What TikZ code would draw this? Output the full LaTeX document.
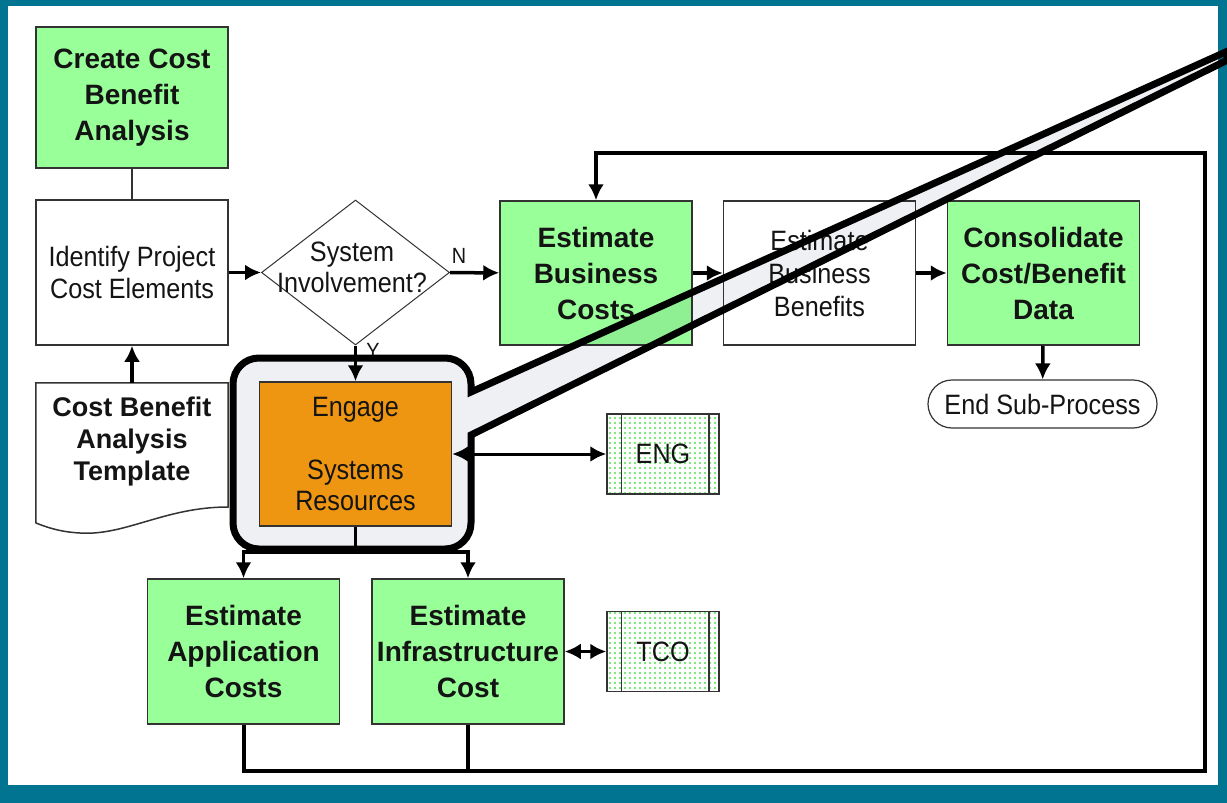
\documentclass[tikz,border=0pt]{standalone}
\usepackage{fontspec}
\setmainfont{Liberation Sans}
\newfontfamily\narrowfont[FakeStretch=0.9]{Liberation Sans}
\usepackage{xcolor}
\usetikzlibrary{shapes.geometric}
\usetikzlibrary{patterns}
\usetikzlibrary{arrows.meta}
\tikzset{>={Latex[length=16pt,width=16pt]}}

\definecolor{frameteal}{RGB}{0,116,145}
\definecolor{stepgreen}{RGB}{153,255,153}
\definecolor{dotgreen}{RGB}{80,225,80}
\definecolor{engageorange}{RGB}{238,150,18}
\definecolor{calloutgrey}{RGB}{238,240,244}
\definecolor{boxline}{RGB}{51,51,51}
\definecolor{labeltext}{RGB}{20,20,20}

% sparse dot fill for the sub-process boxes
\pgfdeclarepatternformonly{greendots}{\pgfqpoint{-1.2pt}{-1.2pt}}{\pgfqpoint{1.2pt}{1.2pt}}{\pgfqpoint{5pt}{5pt}}{%
    \pgfpathcircle{\pgfqpoint{0pt}{0pt}}{1.1pt}\pgfusepath{fill}}

\newcommand\boldlabel{\bfseries\fontsize{28}{36}\selectfont}
\newcommand\plainlabel{\narrowfont\fontsize{28}{31.5}\selectfont}

\tikzstyle{greenbox} = [rectangle, minimum width=192pt, minimum height=144pt, inner sep=0pt, draw=boxline, line width=1.5pt, fill=stepgreen, text=labeltext, align=center, font=\boldlabel]
\tikzstyle{whitebox} = [rectangle, minimum width=192pt, minimum height=144pt, inner sep=0pt, draw=boxline, line width=1.5pt, fill=white, text=labeltext, align=center, font=\plainlabel]
\tikzstyle{decision} = [diamond, minimum width=188pt, minimum height=145pt, inner sep=0pt, draw=boxline, line width=1pt, fill=white]
\tikzstyle{terminal} = [rectangle, rounded corners=24pt, minimum width=229pt, minimum height=48pt, draw=boxline, line width=1.2pt, text=labeltext, font=\plainlabel]
\tikzstyle{subproc} = [rectangle, minimum width=112pt, minimum height=80pt, draw=boxline, line width=1.5pt, pattern=greendots, pattern color=dotgreen, text=labeltext, font=\plainlabel]
\tikzstyle{callout} = [fill=calloutgrey, draw=black, line width=7pt, line join=miter]
\tikzstyle{arrow} = [line width=3.5pt,->]
\tikzstyle{link} = [line width=3.5pt]

\begin{document}
\begin{tikzpicture}[x=1pt, y=-1pt]
    \useasboundingbox (0,0) rectangle (1227,803);
    \fill[frameteal] (0,0) rectangle (1227,803);
    \fill[white] (8,6) rectangle (1218,785);

    % main flow
    \node[greenbox, minimum height=141pt] (create) at (132,97.5) {Create Cost\\Benefit\\Analysis};
    \node[whitebox, minimum height=145pt] (ident) at (132,272.5) {Identify Project\\Cost Elements};
    \node[decision] (sysq) at (355.5,272.5) {};
    \node[font=\plainlabel, text=labeltext, align=center] (sysqtext) at (352,267.5) {System\\Involvement?};
    \node[greenbox] (bizcost) at (596,273) {Estimate\\Business\\Costs};
    \node[whitebox, font=\narrowfont\fontsize{28}{33}\selectfont] (bizben) at (819.5,273) {Estimate\\Business\\Benefits};
    \node[greenbox] (consol) at (1043.5,273) {Consolidate\\Cost/Benefit\\Data};
    \node[terminal] (endsub) at (1042.5,404) {End Sub-Process};

    % input document
    \node[font=\bfseries\fontsize{27}{32}\selectfont, text=labeltext, align=center, minimum width=192pt, minimum height=118pt, inner sep=0pt] (template) at (132,442) {Cost Benefit\\Analysis\\Template};
    \draw[boxline, line width=1.5pt] (template.north west) -- (template.north east) -- (228,507)
        .. controls (165,507) and (125,536) .. (80,533)
        .. controls (60,532) and (46,527) .. (36,523) -- cycle;

    % sub-processes
    \node[subproc] (eng) at (663,454) {ENG};
    \node[subproc] (tco) at (663,651.5) {TCO};
    \foreach \sub in {eng,tco} {
        \draw[boxline, line width=1.5pt] ([xshift=15pt]\sub.north west) -- ([xshift=15pt]\sub.south west);
        \draw[boxline, line width=1.5pt] ([xshift=-11pt]\sub.north east) -- ([xshift=-11pt]\sub.south east);
    }

    \node[greenbox, minimum height=145pt] (appcost) at (243.5,651.5) {Estimate\\Application\\Costs};
    \node[greenbox, minimum height=145pt] (infra) at (468,651.5) {Estimate\\Infrastructure\\Cost};

    \node[font=\narrowfont\fontsize{22}{22}\selectfont, text=labeltext] (nlabel) at (459,256) {N};
    \node[font=\narrowfont\fontsize{22}{22}\selectfont, text=labeltext] (ylabel) at (373,351) {Y};

    % highlight balloon
    \begin{scope}[blend mode=multiply]
    \draw[callout] (1227,51.4) -- (471,392) -- (471,384)
        .. controls (471,369.6) and (459.4,358) .. (445,358) -- (259,358)
        .. controls (244.6,358) and (233,369.6) .. (233,384) -- (233,523)
        .. controls (233,537.4) and (244.6,549) .. (259,549) -- (445,549)
        .. controls (459.4,549) and (471,537.4) .. (471,523) -- (471,435) -- (1227,60.3) -- cycle;
    \end{scope}

    \node[whitebox, fill=engageorange] (engage) at (355.5,454) {Engage\\[31.5pt]Systems\\Resources};

    % connectors
    \draw[boxline, line width=1.5pt] (create) -- (ident);
    \draw[arrow] (ident) -- (sysq);
    \draw[arrow] (sysq) -- (bizcost);
    \draw[arrow] (bizcost) -- (bizben);
    \draw[arrow] (bizben) -- (consol);
    \draw[arrow] (consol) -- (endsub);
    \draw[arrow] (template) -- (ident);
    \draw[arrow] (sysq) -- (engage);
    \draw[<->, line width=3pt] (engage) -- (eng);
    \draw[<->, line width=3pt] (infra) -- (tco);

    \draw[link] (engage.south) -- ++(0,25) coordinate (split);
    \draw[arrow] (split) -| (appcost);
    \draw[arrow] (split) -| (infra);

    % return loop
    \coordinate (loopcorner) at (1205,771);
    \coordinate (looptop) at (1205,153);
    \draw[arrow, line width=4pt] (appcost) |- (loopcorner) -- (looptop) -| (bizcost);
    \draw[link, line width=4pt] (infra) -- (infra |- loopcorner);
\end{tikzpicture}
\end{document}
